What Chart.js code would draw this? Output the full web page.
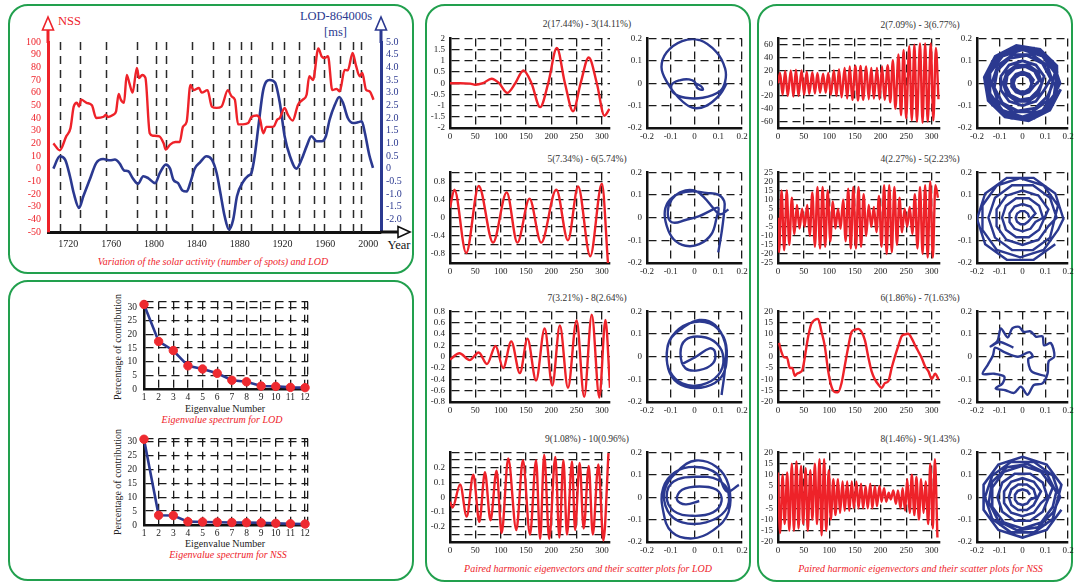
<!DOCTYPE html>
<html><head><meta charset="utf-8">
<script src="https://cdn.jsdelivr.net/npm/chart.js@4.4.1/dist/chart.umd.min.js"></script>
<style>
html,body{margin:0;padding:0;background:#fff;}
#root{position:relative;width:1075px;height:583px;overflow:hidden;background:#fff;font-family:'Liberation Serif','Times New Roman',serif;}
.panel{position:absolute;border:2.5px solid #22a04e;border-radius:20px;box-sizing:border-box;}
.t{position:absolute;white-space:nowrap;transform:translate(-50%,-50%);line-height:1;}
.cap{color:#ee2229;font-style:italic;font-size:10px;}
.ttl{color:#333;font-size:9.5px;}
canvas{position:absolute;}
</style></head><body>
<div id="root">
<div class="panel" style="left:8px;top:4px;width:406px;height:270px"></div>
<div class="panel" style="left:8px;top:280px;width:406px;height:301px"></div>
<div class="panel" style="left:425px;top:4px;width:326px;height:578px"></div>
<div class="panel" style="left:757px;top:4px;width:316px;height:578px"></div>

<div class="t" style="left:69.5px;top:20.5px;color:#ee2229;font-size:12.5px">NSS</div>
<div class="t" style="left:336px;top:15.5px;color:#2b3990;font-size:12.5px">LOD-864000s</div>
<div class="t" style="left:335.5px;top:31.5px;color:#2b3990;font-size:12.5px">[ms]</div>
<div class="t" style="left:399px;top:245px;color:#111;font-size:12.5px">Year</div>
<div class="t cap" style="left:213px;top:261.5px">Variation of the solar activity (number of spots) and LOD</div>

<div class="t" style="left:118px;top:346.5px;font-size:10px;color:#222;transform:translate(-50%,-50%) rotate(-90deg)">Percentage of contribution</div>
<div class="t" style="left:225px;top:409px;font-size:10px;color:#222">Eigenvalue Number</div>
<div class="t cap" style="left:222px;top:419.5px">Eigenvalue spectrum for LOD</div>
<div class="t" style="left:118px;top:482px;font-size:10px;color:#222;transform:translate(-50%,-50%) rotate(-90deg)">Percentage of contribution</div>
<div class="t" style="left:225px;top:544px;font-size:10px;color:#222">Eigenvalue Number</div>
<div class="t cap" style="left:228px;top:554.5px">Eigenvalue spectrum for NSS</div>

<div class="t ttl" style="left:587px;top:25px">2(17.44%) - 3(14.11%)</div>
<div class="t ttl" style="left:587px;top:160px">5(7.34%) - 6(5.74%)</div>
<div class="t ttl" style="left:587px;top:298.5px">7(3.21%) - 8(2.64%)</div>
<div class="t ttl" style="left:587px;top:439.5px">9(1.08%) - 10(0.96%)</div>
<div class="t cap" style="left:588px;top:568.5px">Paired harmonic eigenvectors and their scatter plots for LOD</div>

<div class="t ttl" style="left:920px;top:26px">2(7.09%) - 3(6.77%)</div>
<div class="t ttl" style="left:920px;top:160px">4(2.27%) - 5(2.23%)</div>
<div class="t ttl" style="left:920px;top:298.5px">6(1.86%) - 7(1.63%)</div>
<div class="t ttl" style="left:920px;top:439.5px">8(1.46%) - 9(1.43%)</div>
<div class="t cap" style="left:920.5px;top:568.5px">Paired harmonic eigenvectors and their scatter plots for NSS</div>
</div>
<script>
// ---------------- DATA ----------------
const yearTicks = [1720,1760,1800,1840,1880,1920,1960,2000];
const nssTicks = [-50,-40,-30,-20,-10,0,10,20,30,40,50,60,70,80,90,100];
const lodTicks = [-2,-1.5,-1,-0.5,0,0.5,1,1.5,2,2.5,3,3.5,4,4.5,5];
const extremaYears = [1712.5,1730.5,1755.5,1784,1802,1811.5,1835.5,1855.5,1870,1881.5,1890.5,1910.5,1921.5,1935.5,1949,1959,1974,1985.5,1993];

const nssYears = [1706,1712,1718,1722,1725,1728,1730,1732,1737,1742,1746,1753,1755,1757,1762,1764.5,1767,1769,1772,1774.5,1777,1780,1784,1786,1789,1792,1796,1799,1805,1809,1811,1815,1820,1824,1827,1830.5,1834,1837,1842,1844.5,1850,1854,1858.5,1863,1869,1872.5,1875.5,1878.5,1883,1888,1891,1896,1899,1902,1905,1910,1912,1915,1917.5,1922,1925,1929.5,1934.5,1939,1942.5,1945,1948.5,1953.5,1956.5,1959.5,1962.5,1966.5,1970.5,1973.5,1978,1981,1985.5,1988.5,1992,1994.5,1998,2001.5,2005];
const nssValues = [20,14.5,25.5,32,49,52,49,54.5,52,50,40,41,42.6,40.8,42.6,45,59,54.5,52,74,67.6,60,79.5,71.6,74,71.6,28,26,25.5,20,15,19,21,21,33,37,66,62,63.7,60,62,49,48,49,62,57,54.5,35,35,36,40.8,42,39,28,33,33,33.4,38.7,40,48,42.6,38,50.5,54.5,58.4,73,70,95,88.7,87.4,88.7,62,63,61,78,77.6,91.3,82,73,75.5,62.4,61,54.5];
const lodYears = [1706,1712,1717,1721.5,1725,1730,1734,1740,1746,1752.5,1759,1763.5,1768,1772,1776,1780,1785,1790,1794.5,1801,1805.5,1811,1815,1818,1822.5,1826.5,1830.5,1834,1838,1843,1849,1854,1858.5,1862,1866,1870,1874,1877.5,1883.5,1888,1891,1894,1897.5,1902,1908,1913,1917.5,1922,1927,1933,1938,1942.5,1947,1952,1956.5,1960.5,1964,1969,1973,1976.5,1981,1986,1990.5,1994,1997,2001,2004.5];
const lodValues = [0,0.49,0.36,-0.3,-0.96,-1.55,-1.09,-0.43,0.22,0.38,0.33,0.36,0.2,-0.07,-0.1,-0.37,-0.6,-0.3,-0.37,-0.57,-0.17,0.16,0,-0.43,-0.57,-0.86,-0.9,-0.54,0,0.25,0.49,0.36,-0.17,-0.96,-1.88,-2.4,-2.0,-1.09,-0.5,-0.28,-0.17,0.49,1.67,3.1,3.5,3.4,2.6,1.28,0.49,0,0.38,0.88,1.28,1.08,1.08,1.28,1.93,2.53,2.83,2.6,2.0,1.8,1.83,1.87,1.4,0.55,0.03];

const eigIndex = [1,2,3,4,5,6,7,8,9,10,11,12];
const specXTicks = [1,2,3,4,5,6,7,8,9,10,11,12,12.2];
const specYLabels = [0,5,10,15,20,25,30];
const lodEigen = [31.0,17.44,14.11,8.5,7.34,5.74,3.21,2.64,1.08,0.96,0.6,0.5];
const nssEigen = [30.8,3.5,3.4,1.2,1.1,1.0,0.9,0.85,0.8,0.6,0.45,0.35];

const lineXTicks = [0,50,100,150,200,250,300];
const scatTicks = [-0.2,-0.1,0,0.1,0.2];

// LOD eigenvector pairs
const lod23X = [0,20,40,50,65,82,97,113,129,145,161,178,194,211,227,243,258,274,290,305,315];
const lod23Y = [0,0,-0.02,-0.07,0,0.2,0,-0.43,0,0.57,0,-1.07,0,1.57,0,-1.25,0,1.15,0,-1.45,-1.15];
const lod23SX = [0,0.028,0.035,0.013,0,-0.023,-0.059,-0.096,-0.088,-0.038,0.035,0.107,0.129,0.129,0.093,0.020,-0.052,-0.117,-0.139,-0.117,-0.067,-0.009,0.049,0.107,0.136];
const lod23SY = [0,-0.014,-0.029,-0.022,0.007,0.017,0.014,-0.007,-0.043,-0.065,-0.065,-0.036,0.007,0.065,0.138,0.193,0.188,0.138,0.072,0.007,-0.065,-0.109,-0.101,-0.051,0];

const lod56X = [0,8.7,32,56.7,85,112,133,157,180,210,233,253,277,300,312];
const lod56Y = [0.22,0.62,-0.78,0.7,-0.55,0.56,-0.55,0.42,-0.55,0.62,-0.5,0.69,-0.85,0.75,-1.0];
const lod56SX = [0.100,0.114,0.125,0.125,0.100,0.049,-0.009,-0.059,-0.103,-0.125,-0.117,-0.088,-0.038,0.020,0.071,0.093,0.100,0.064,0.020,-0.038,-0.088,-0.110,-0.107,-0.081,-0.038,0.006,0.042,0.078,0.107,0.143];
const lod56SY = [-0.153,-0.066,0.029,0.073,0.102,0.109,0.117,0.109,0.080,0.029,-0.036,-0.095,-0.124,-0.117,-0.073,0,0.044,0.029,0.007,-0.010,-0.022,0,0.058,0.098,0.120,0.117,0.088,0.044,0.015,0.036];

const lod78X = [0,18.7,38.7,56.7,73,90,105,121,138,153,170,187,202,217,233,250,265,280,295,307,316];
const lod78Y = [-0.05,0.06,-0.06,0.075,-0.13,0.19,-0.2,0.27,-0.29,0.32,-0.42,0.5,-0.51,0.55,-0.55,0.64,-0.71,0.74,-0.72,0.65,-0.55];
const lod78SX = [-0.052,0.006,0.064,0.086,0.078,0.020,-0.038,-0.059,-0.038,0.028,0.093,0.122,0.100,0.028,-0.052,-0.103,-0.117,-0.096,-0.023,0.064,0.122,0.136,0.114,0.049,-0.038,-0.096,-0.117,-0.103,-0.052,0.020,0.086,0.129,0.129,0.114];
const lod78SY = [-0.032,0,0.037,0.022,-0.029,-0.059,-0.051,0.015,0.074,0.088,0.059,-0.007,-0.081,-0.125,-0.118,-0.066,0.007,0.088,0.147,0.147,0.088,0,-0.088,-0.132,-0.132,-0.088,-0.007,0.074,0.125,0.162,0.140,0.059,-0.044,-0.169];

const lod910X = [0,5,20,33,46,58,69,80,92,102,115,131,144,158,170,178,186,196,208,216,224,231,241,247,256,264,274,282,293,303,313];
const lod910Y = [-0.03,-0.07,0.085,-0.13,0.15,-0.165,0.167,-0.155,0.177,-0.24,0.26,-0.22,0.248,-0.25,0.248,-0.28,0.284,-0.28,0.27,-0.27,0.248,-0.25,0.24,-0.22,0.23,-0.21,0.21,-0.25,0.22,-0.29,0.295];
const lod910SX = [0.02,-0.038,-0.074,-0.052,0.02,0.093,0.114,0.078,-0.009,-0.088,-0.117,-0.088,0.006,0.1,0.143,0.129,0.049,-0.052,-0.113,-0.125,-0.067,0.006,0.093,0.143,0.143,0.078,-0.009,-0.096,-0.132,-0.132,-0.081,0.006,0.093,0.136,0.187];
const lod910SY = [-0.017,-0.032,-0.01,0.033,0.048,0.033,-0.017,-0.068,-0.083,-0.061,0.004,0.07,0.091,0.077,0.019,-0.061,-0.112,-0.112,-0.061,0.033,0.12,0.164,0.135,0.055,-0.068,-0.148,-0.184,-0.155,-0.061,0.041,0.113,0.135,0.106,0.026,0.055];

// NSS eigenvector pairs
const nss23X = [0,4,9,14,19,25,30,35,40,46,51,56,61,67,72,77,82,88,93,98,103,109,114,119,124,130,135,140,145,151,156,161,166,172,177,182,187,193,198,203,208,214,219,224,229,235,240,245,250,256,261,266,271,277,282,287,292,298,303,308,313];
const nss23Y = [0,16,-18,19,-20,20,-21,21,-20,20,-18,18,-17,17,-16,16,-15,15,-15,16,-18,20,-20,22,-22,24,-24,26,-26,27,-27,27,-26,26,-25,24,-24,24,-25,26,-26,28,-30,36,-40,45,-50,52,-55,58,-58,60,-60,62,-62,62,-60,62,-58,55,-25];
const nss23SX = [.040,.032,.012,-.012,-.032,-.040,-.032,-.012,.012,.032, .048,.029,0,-.029,-.048,-.048,-.029,0,.029,.048, .074,.053,.012,-.034,-.067,-.074,-.053,-.012,.034,.067, .085,.069,.026,-.026,-.069,-.085,-.069,-.026,.026,.069, .095,.059,0,-.059,-.095,-.095,-.059,0,.059,.095, .124,.088,.020,-.057,-.111,-.124,-.088,-.020,.057,.111, .135,.109,.042,-.042,-.109,-.135,-.109,-.042,.042,.109, .143,.088,0,-.088,-.143,-.143,-.088,0,.088,.143, .165,.133,.051,-.051,-.133,-.165,-.133,-.051,.051,.133, .152,.094,0,-.094,-.152,-.152,-.094,0,.094,.152, .151,.077,-.027,-.120,-.168,-.151,-.077,.027,.120,.168];
const nss23SY = [0,.024,.038,.038,.024,0,-.024,-.038,-.038,-.024, .015,.040,.050,.040,.015,-.015,-.040,-.050,-.040,-.015, .012,.053,.074,.067,.034,-.012,-.053,-.074,-.067,-.034, 0,.050,.081,.081,.050,0,-.050,-.081,-.081,-.050, .031,.081,.100,.081,.031,-.031,-.081,-.100,-.081,-.031, .020,.088,.124,.111,.057,-.020,-.088,-.124,-.111,-.057, 0,.079,.128,.128,.079,0,-.079,-.128,-.128,-.079, .046,.121,.150,.121,.046,-.046,-.121,-.150,-.121,-.046, 0,.097,.157,.157,.097,0,-.097,-.157,-.157,-.097, .049,.129,.160,.129,.049,-.049,-.129,-.160,-.129,-.049, .077,.151,.168,.120,.027,-.077,-.151,-.168,-.120,-.027];

const nss45X = [0,2,7,12,17,22,27,32,37,42,47,52,57,62,67,72,77,82,87,92,97,102,107,112,117,122,127,132,137,142,147,152,157,162,167,172,177,182,187,192,197,202,207,212,217,222,227,232,237,242,247,252,257,262,267,272,277,282,287,292,297,302,307,312];
const nss45Y = [0,-19,15,-18,15,-15,11,-9,7,-6,5,-5,7,-10,14,-16,17,-17,17,-16,15,-13,9,-6,5,-6,10,-13,16,-17,17,-17,17,-16,13,-10,7,-5,6,-8,12,-16,18,-20,18,-19,17,-15,11,-8,5,-5,6,-9,13,-17,17,-20,18,-22,20,-22,18,11];
const nss45SX = [.030,.024,.009,-.009,-.024,-.030,-.024,-.009,.009,.024, .057,.035,0,-.035,-.057,-.057,-.035,0,.035,.057, .090,.073,.028,-.028,-.073,-.090,-.073,-.028,.028,.073, .114,.071,0,-.071,-.114,-.114,-.071,0,.071,.114, .150,.121,.046,-.046,-.121,-.150,-.121,-.046,.046,.121, .156,.093,-.010,-.113,-.176,-.176,-.113,-.010,.093,.156, .180,.144,.049,-.069,-.164,-.200,-.164,-.069,.049,.144];
const nss45SY = [0,.018,.029,.029,.018,0,-.018,-.029,-.029,-.018, .019,.049,.060,.049,.019,-.019,-.049,-.060,-.049,-.019, 0,.053,.086,.086,.053,0,-.053,-.086,-.086,-.053, .037,.097,.120,.097,.037,-.037,-.097,-.120,-.097,-.037, 0,.088,.143,.143,.088,0,-.088,-.143,-.143,-.088, .054,.142,.175,.142,.054,-.054,-.142,-.175,-.142,-.054, -.005,.107,.176,.176,.107,-.005,-.117,-.186,-.186,-.117];

const nss67X = [2,6.5,12,17.6,23,28,32.6,37,42.4,47.6,52,58.7,65,71.7,78,85,91,98,104,111,117,124,130,137,143.5,150,156.5,163,169.6,176,182.6,189,195.7,202,208.7,215,221.7,228,235,241,248,254,261,267.4,274,280.5,287,293.5,300,306.5,313];
const nss67Y = [6.1,2.2,-0.3,-0.4,-5,-5,-8.4,-7.5,-7,-5.8,-0.7,8.7,14.5,16.2,16.7,10.9,5,-6.5,-13,-15.6,-15.7,-11.6,-4.3,4.3,10.9,11.9,12.3,10.9,7.2,0,-6.5,-10,-12.3,-13.8,-11.6,-10.9,-5,0,5,9,9.9,10.1,8,5,2.2,-0.7,-4.3,-6.5,-9.9,-7.5,-10];
const nss67SX = [-0.04,-0.10,-0.14,-0.11,-0.095,-0.065,-0.045,-0.015,0.005,0.035,0.06,0.088,0.095,0.125,0.14,0.115,0.11,0.088,0.05,0.022,-0.007,-0.037,-0.075,-0.118,-0.088,-0.08,-0.125,-0.175,-0.152,-0.13,-0.12,-0.08,-0.02,0.03,0.045,0.025,0.04,0.1];
const nss67SY = [0.04,0.065,0.045,0.07,0.125,0.085,0.125,0.132,0.11,0.112,0.088,0.09,0.05,0.06,0,-0.02,-0.075,-0.118,-0.125,-0.168,-0.132,-0.16,-0.148,-0.14,-0.118,-0.088,-0.075,-0.076,-0.035,0.005,0.04,0.02,0,0.02,0,-0.01,-0.065,-0.085];

const nss89X = [0,4,9,13,18,22,27,31,36,40,45,49,54,58,63,67,72,76,81,85,90,94,99,103,108,112,117,121,126,130,135,139,144,148,153,157,162,166,171,175,180,184,189,193,198,202,207,211,216,220,225,230,234,239,243,248,252,257,261,266,270,275,279,284,288,293,297,302,306,311];
const nss89Y = [11,-16,10,-12,11,-15,15,-15,16,-14,14,-12,13,-15,12,-10,15,-12,17,-17,17,-15,12,-10,8,-8,8,-7,7,-6,7,-6,7,-5,7,-5,6,-5,5,-5,6,-5,5,-4,5,-2,4,-2,2,-1,3,-3,3,-5,4,-6,8,-7,10,-8,9,-10,8,-7,7,-12,15,-14,17,-18];
const nss89SX = [.033,.021,0,-.021,-.033,-.033,-.021,0,.021,.033, .060,.049,.019,-.019,-.049,-.060,-.049,-.019,.019,.049, .081,.050,0,-.050,-.081,-.081,-.050,0,.050,.081, .110,.089,.034,-.034,-.089,-.110,-.089,-.034,.034,.089, .133,.082,0,-.082,-.133,-.133,-.082,0,.082,.133, .148,.106,.023,-.068,-.134,-.148,-.106,-.023,.068,.134, .165,.133,.051,-.051,-.133,-.165,-.133,-.051,.051,.133, .171,.106,0,-.106,-.171,-.171,-.106,0,.106,.171];
const nss89SY = [.011,.028,.035,.028,.011,-.011,-.028,-.035,-.028,-.011, 0,.035,.057,.057,.035,0,-.035,-.057,-.057,-.035, .026,.069,.085,.069,.026,-.026,-.069,-.085,-.069,-.026, 0,.065,.105,.105,.065,0,-.065,-.105,-.105,-.065, .043,.113,.140,.113,.043,-.043,-.113,-.140,-.113,-.043, .023,.106,.148,.134,.068,-.023,-.106,-.148,-.134,-.068, 0,.097,.157,.157,.097,0,-.097,-.157,-.157,-.097, .056,.146,.180,.146,.056,-.056,-.146,-.180,-.146,-.056];

// y tick sets
const tC1 = [-2,-1.5,-1,-0.5,0,0.5,1,1.5,2];
const tC2 = [-1,-0.8,-0.6,-0.4,-0.2,0,0.2,0.4,0.6,0.8,1];
const lC2 = [-0.8,-0.4,0,0.4,0.8];
const tC3 = [-0.8,-0.6,-0.4,-0.2,0,0.2,0.4,0.6,0.8];
const tC4 = [-0.3,-0.25,-0.2,-0.15,-0.1,-0.05,0,0.05,0.1,0.15,0.2,0.25,0.3];
const lC4 = [-0.2,-0.1,0,0.1,0.2];
const tD1 = [-70,-60,-40,-20,0,20,40,60,70];
const lD1 = [-60,-40,-20,0,20,40,60];
const tD2 = [-25,-20,-15,-10,-5,0,5,10,15,20,25];
const tD3 = [-20,-15,-10,-5,0,5,10,15,20];

// ---------------- RENDER ----------------
Chart.defaults.font.family = "'Liberation Serif','Times New Roman',serif";
Chart.defaults.font.size = 9;
Chart.defaults.color = '#222';
const RED = '#ee2229', BLUE = '#2b3990', PT = '#ee2a30';
const root = document.getElementById('root');
const zip = (xs, ys) => xs.map((x, i) => ({x, y: ys[i]}));
const fmtNum = v => String(+(+v).toFixed(3));

function mkCanvas(L, T, R, B, pl, pr, pt, pb) {
  const c = document.createElement('canvas');
  const x0 = Math.round(L - pl), y0 = Math.round(T - pt);
  const w = Math.round(R + pr) - x0, h = Math.round(B + pb) - y0;
  c.width = w; c.height = h;
  c.style.left = x0 + 'px'; c.style.top = y0 + 'px';
  c.style.width = w + 'px'; c.style.height = h + 'px';
  root.appendChild(c);
  return {c, pads: {left: Math.round(L) - x0, top: Math.round(T) - y0, right: x0 + w - Math.round(R), bottom: y0 + h - Math.round(B)}};
}

function axis(o) {
  const labels = o.labels || o.ticks;
  const fmt = o.fmt || fmtNum;
  return {
    type: 'linear', position: o.pos, min: o.min, max: o.max, bounds: 'data',
    afterBuildTicks: s => { s.ticks = o.ticks.map(v => ({value: v})); },
    afterFit: o.fit,
    ticks: {autoSkip: false, maxRotation: 0, minRotation: 0, padding: o.pad == null ? 4 : o.pad,
      color: o.color || '#222', font: {size: o.size || 9},
      callback: v => labels.some(l => Math.abs(l - v) < 1e-9) ? fmt(v) : ''},
    grid: {display: o.grid !== false, drawTicks: false, color: '#1a1a1a', lineWidth: 1.3},
    border: {display: true, color: o.bcolor || '#111', width: o.bw || 2.5, dash: [8, 5]}
  };
}

function opts(pads, scales, rightAxis) {
  return {
    responsive: false, animation: false, devicePixelRatio: 1, events: [],
    layout: {autoPadding: false, padding: {left: 0, top: pads.top, right: rightAxis ? 0 : pads.right, bottom: 0}},
    plugins: {legend: {display: false}, tooltip: {enabled: false}, title: {display: false}},
    scales
  };
}

// Chart A: NSS and LOD
const solarDeco = {
  id: 'solarDeco',
  beforeDatasetsDraw(chart) {
    const {ctx, chartArea: a, scales: {x}} = chart;
    ctx.save(); ctx.strokeStyle = '#2a2a2a'; ctx.lineWidth = 1.5; ctx.setLineDash([8, 6]);
    extremaYears.forEach(yr => {
      const px = Math.round(x.getPixelForValue(yr)) + 0.5;
      ctx.beginPath(); ctx.moveTo(px, a.top); ctx.lineTo(px, a.bottom); ctx.stroke();
    });
    ctx.restore();
  },
  afterDraw(chart) {
    const {ctx, chartArea: a} = chart;
    ctx.save(); ctx.setLineDash([]); ctx.fillStyle = '#fff';
    const up = (x, col) => {
      ctx.strokeStyle = col; ctx.lineWidth = 3;
      ctx.beginPath(); ctx.moveTo(x, a.top + 1); ctx.lineTo(x, a.top - 12); ctx.stroke();
      ctx.lineWidth = 1.6;
      ctx.beginPath(); ctx.moveTo(x, a.top - 25); ctx.lineTo(x - 5.5, a.top - 12); ctx.lineTo(x + 5.5, a.top - 12); ctx.closePath(); ctx.fill(); ctx.stroke();
    };
    up(a.left, RED); up(a.right, BLUE);
    ctx.strokeStyle = '#111'; ctx.lineWidth = 3;
    ctx.beginPath(); ctx.moveTo(a.right - 1, a.bottom); ctx.lineTo(a.right + 17, a.bottom); ctx.stroke();
    ctx.lineWidth = 1.6;
    ctx.beginPath(); ctx.moveTo(a.right + 29, a.bottom); ctx.lineTo(a.right + 17, a.bottom - 5.5); ctx.lineTo(a.right + 17, a.bottom + 5.5); ctx.closePath(); ctx.fill(); ctx.stroke();
    ctx.restore();
  }
};
(function () {
  const {c, pads} = mkCanvas(48, 42, 381, 232, 48, 39, 42, 48);
  new Chart(c, {
    type: 'line',
    data: {datasets: [
      {data: zip(nssYears, nssValues), yAxisID: 'y', borderColor: RED, borderWidth: 2.4, pointRadius: 0, cubicInterpolationMode: 'monotone'},
      {data: zip(lodYears, lodValues), yAxisID: 'y2', borderColor: BLUE, borderWidth: 2.6, pointRadius: 0, cubicInterpolationMode: 'monotone'}
    ]},
    options: opts(pads, {
      x: axis({pos: 'bottom', min: 1701, max: 2012, ticks: yearTicks, grid: false, pad: 6, size: 10, bw: 3, fmt: v => String(v), fit: s => { s.height = pads.bottom; }}),
      y: axis({pos: 'left', min: -50, max: 100, ticks: nssTicks, grid: false, pad: 7, size: 10, bw: 3, color: RED, bcolor: RED, fit: s => { s.width = pads.left; }}),
      y2: axis({pos: 'right', min: -2.5, max: 5, ticks: lodTicks, grid: false, pad: 5, size: 10, bw: 3, color: BLUE, bcolor: BLUE, fmt: v => v === 0 ? '0' : v.toFixed(1), fit: s => { s.width = pads.right; }})
    }, true),
    plugins: [solarDeco]
  });
})();

// Eigenvalue spectra
function spectrum(T, B, max, yTicks, vals) {
  const {c, pads} = mkCanvas(144, T, 308, B, 30, 10, 8, 18);
  new Chart(c, {
    type: 'line',
    data: {datasets: [{data: zip(eigIndex, vals), borderColor: BLUE, borderWidth: 2.6, pointRadius: 4.2, pointBackgroundColor: PT, pointBorderColor: PT, pointBorderWidth: 1, tension: 0, clip: false}]},
    options: opts(pads, {
      x: axis({pos: 'bottom', min: 1, max: 12.2, ticks: specXTicks, labels: eigIndex, pad: 3, size: 9.5, fit: s => { s.height = pads.bottom; }}),
      y: axis({pos: 'left', min: 0, max: max, ticks: yTicks, labels: specYLabels, pad: 7, size: 9.5, fit: s => { s.width = pads.left; }})
    })
  });
}
spectrum(297, 389, 32, [0,5,10,15,20,25,30,32], lodEigen);
spectrum(434, 525, 31, [0,5,10,15,20,25,30,31], nssEigen);

// Eigenvector panels
const rows = [[36, 128], [170, 263], [309, 402], [450, 542]];
function eigLine(L, R, row, xs, ys, yMin, yMax, yTicks, yLabels) {
  const [T, B] = rows[row];
  const {c, pads} = mkCanvas(L, T, R, B, 30, 10, 8, 16);
  new Chart(c, {
    type: 'line',
    data: {datasets: [{data: zip(xs, ys), borderColor: RED, borderWidth: 2.4, pointRadius: 0, cubicInterpolationMode: 'monotone'}]},
    options: opts(pads, {
      x: axis({pos: 'bottom', min: 0, max: 316, ticks: lineXTicks, pad: 3, fit: s => { s.height = pads.bottom; }}),
      y: axis({pos: 'left', min: yMin, max: yMax, ticks: yTicks, labels: yLabels, pad: 5, fit: s => { s.width = pads.left; }})
    })
  });
}
function eigScatter(L, R, row, xs, ys, tension, lw) {
  const [T, B] = rows[row];
  const {c, pads} = mkCanvas(L, T, R, B, 30, 10, 8, 16);
  new Chart(c, {
    type: 'line',
    data: {datasets: [{data: zip(xs, ys), borderColor: BLUE, borderWidth: lw || 2.4, pointRadius: 0, tension: tension}]},
    options: opts(pads, {
      x: axis({pos: 'bottom', min: -0.2, max: 0.2, ticks: scatTicks, pad: 3, fit: s => { s.height = pads.bottom; }}),
      y: axis({pos: 'left', min: -0.2, max: 0.2, ticks: scatTicks, pad: 5, fit: s => { s.width = pads.left; }})
    })
  });
}
const CL = 450, CR = 610, CSL = 647, CSR = 742, DL = 778, DR = 940, DSL = 977, DSR = 1068;
eigLine(CL, CR, 0, lod23X, lod23Y, -2, 2, tC1);
eigScatter(CSL, CSR, 0, lod23SX, lod23SY, 0.4);
eigLine(CL, CR, 1, lod56X, lod56Y, -1, 1, tC2, lC2);
eigScatter(CSL, CSR, 1, lod56SX, lod56SY, 0.4);
eigLine(CL, CR, 2, lod78X, lod78Y, -0.8, 0.8, tC3);
eigScatter(CSL, CSR, 2, lod78SX, lod78SY, 0.4);
eigLine(CL, CR, 3, lod910X, lod910Y, -0.3, 0.3, tC4, lC4);
eigScatter(CSL, CSR, 3, lod910SX, lod910SY, 0.4);

eigLine(DL, DR, 0, nss23X, nss23Y, -70, 70, tD1, lD1);
eigScatter(DSL, DSR, 0, nss23SX, nss23SY, 0, 2.8);
eigLine(DL, DR, 1, nss45X, nss45Y, -25, 25, tD2);
eigScatter(DSL, DSR, 1, nss45SX, nss45SY, 0, 2.4);
eigLine(DL, DR, 2, nss67X, nss67Y, -20, 20, tD3);
eigScatter(DSL, DSR, 2, nss67SX, nss67SY, 0.3);
eigLine(DL, DR, 3, nss89X, nss89Y, -20, 20, tD3);
eigScatter(DSL, DSR, 3, nss89SX, nss89SY, 0, 2.6);
</script>
</body></html>
